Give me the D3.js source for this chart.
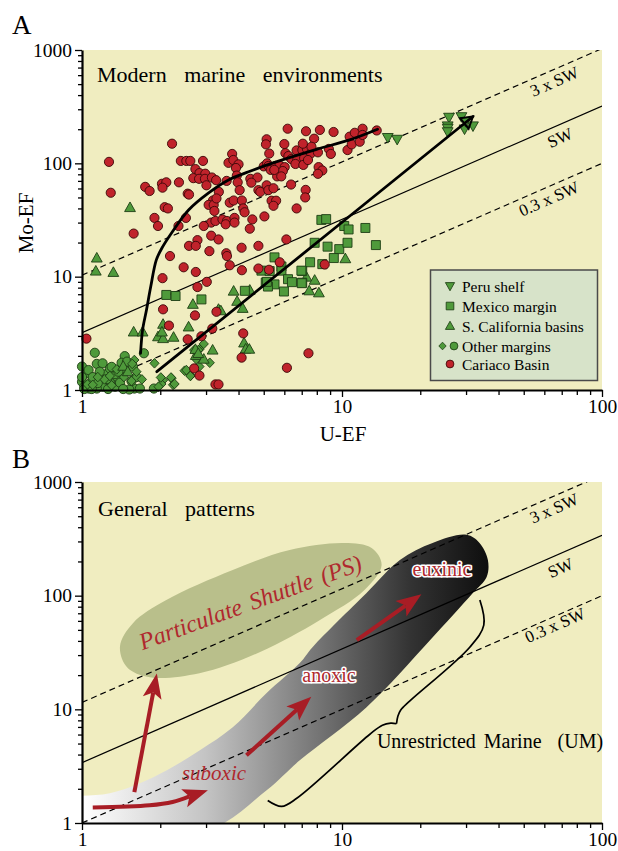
<!DOCTYPE html>
<html><head><meta charset="utf-8">
<script src="https://cdn.jsdelivr.net/npm/d3@7"></script>
<style>body{margin:0;background:#fff}svg{display:block}</style>
</head><body><svg id="c" width="618" height="851"></svg>
<script>
// ---------------- DATA ----------------
const xTickLabels = [1, 10, 100];
const yTickLabels = [1, 10, 100, 1000];
const swRatioA = {"3 x SW": 10.3, "SW": 3.2, "0.3 x SW": 1.0};
const swRatioB = {"3 x SW": 11.5, "SW": 3.4, "0.3 x SW": 1.0};
const legendLabels = ["Peru shelf", "Mexico margin", "S. California basins", "Other margins", "Cariaco Basin"];

const peruShelf = [[15,169],[16.3,163],[25.8,255],[28.8,258],[25.5,214],[25.5,204],[25.5,190],[29.6,201],[31.9,214],[29.9,234]];
const mexicoMargin = [[8.33,31.7],[8.69,32.2],[10.2,28],[10.6,26.1],[12.3,26.9],[7.85,19.9],[8.8,18.4],[9.76,17.5],[10.5,19.9],[13.5,19.0],[9.3,14.6],[7.54,13.4],[7.03,11.2],[7.03,8.85],[5.5,14.8],[8.4,12.9],[4.9,11.3],[5.27,11.2],[5.85,12.3],[5.85,11.3],[6.98,11.3],[6.2,9.5],[6.42,8.95],[7.0,8.76],[5.09,8.87],[5.5,8.55],[5.19,8.18],[5.98,7.4],[2.11,6.9],[2.29,6.75],[2.88,6.3],[4.23,7.5],[5.14,9.0]];
const sCalifornia = [[1.53,40.7],[1.14,14.6],[1.13,11.2],[1.32,10.9],[3.83,7.45],[4.42,7.6],[3.95,6.06],[4.15,5.25],[2.67,5.7],[2.05,3.8],[1.58,3.25],[1.71,3.25],[1.96,2.95],[2.05,2.84],[2.25,2.92],[2.03,3.25],[2.57,3.6],[3.35,5.15],[3.42,5.0],[4.2,2.6],[4.26,2.3],[4.4,2.29],[3.18,2.25],[2.74,2.02],[2.94,1.87],[10.3,14.4],[7.3,9.9],[7.85,9.3],[7.48,7.5],[8.15,7.2],[2.73,2.28],[2.8,2.1],[1.44,1.62],[1.5,1.45]];
const otherCircles = [[1.12,2.13],[1.0,1.61],[1.04,1.40],[1.14,1.70],[1.20,1.72],[1.24,1.38],[1.17,1.22],[1.09,1.18],[1.20,1.07],[1.28,1.18],[1.34,1.07],[1.46,1.99],[1.42,1.74],[1.36,1.31],[1.46,1.45],[1.57,1.61],[1.40,1.16],[1.0,1.18],[1.02,1.07],[1.06,1.03],[1.14,1.03],[1.34,1.38],[1.59,1.03],[1.67,1.03],[1.52,1.01],[1.73,2.11],[1.89,1.03],[1.49,1.78],[1.28,1.55],[1.17,1.45],[1.06,1.5],[1.1,1.3],[1.25,1.25],[1.3,1.6],[1.15,1.15],[1.38,1.45],[1.0,1.3],[1.02,1.02],[1.09,1.02],[1.26,1.02],[1.44,1.02],[1.55,1.2],[1.62,1.3]];
const otherDiamonds = [[1.59,1.84],[1.62,1.45],[1.70,1.24],[1.55,1.20],[1.90,1.72],[2.05,1.22],[2.21,1.27],[2.24,1.11],[2.02,1.13],[2.48,1.48],[2.62,1.34],[2.83,1.61],[2.94,2.55],[3.10,1.74],[2.83,2.29],[2.75,1.87],[1.56,1.70],[1.05,1.12],[1.10,1.11],[1.22,1.24],[1.28,1.33],[1.36,1.52],[2.01,1.29],[2.2,1.29],[2.27,1.13],[1.97,1.07],[2.52,1.50],[2.61,1.33],[2.70,2.25],[2.8,2.25],[1.15,1.3],[1.3,1.1],[1.45,1.3]];
const cariaco = [[2.22,149],[1.27,103],[1.29,55],[2.40,105],[2.52,105],[2.61,105],[2.92,105],[2.73,89],[2.83,82],[2.98,81],[2.68,74],[2.82,73],[2.97,73],[3.16,75],[3.28,71],[3.01,64],[2.36,68],[2.03,66],[2.11,68],[2.04,61],[1.75,62],[1.82,57],[2.55,54],[2.58,53],[2.08,41],[2.14,40],[1.90,33],[1.96,28],[1.58,24],[2.35,28],[2.51,33],
[3.78,121],[3.66,101],[3.82,107],[4.00,98],[3.91,91],[3.60,70],[3.94,78],[3.97,68],[4.04,58],[4.44,73],[4.73,75],[5.0,94],[5.15,100],[5.13,163],[5.10,147],[5.25,122],
[3.36,56],[3.19,47],[3.07,43],[3.21,43],[3.23,38],[3.29,49],[3.70,45],[3.83,47],[4.12,47],[4.17,40],[4.22,37],[4.77,58],[4.85,56],[5.13,64],[5.21,58],
[3.14,30],[3.26,31],[3.47,32],[3.61,31],[3.86,33],[3.57,29],[3.86,30],[2.94,28],[4.52,32],[5.03,34],[4.42,26.5],[3.14,23],[3.35,21.3],[2.78,21],[2.58,18.7],[2.74,18.7],[4.11,18],[4.77,18.7],
[6.18,202],[7.27,192],[8.22,197],[9.28,189],[7.81,165],[6.0,148],[6.06,123],[6.22,116],[6.69,130],[7.04,131],[7.33,134],[7.58,122],[8.08,125],[8.9,134],[9.06,121],[10.5,131],[10.7,172],[11.2,186],[12.0,202],[13.6,195],[10.9,147],[11.7,155],[12.0,178],[6.39,109],[6.73,108],[7.15,111],[6.62,98.7],[7.1,96.8],[7.4,107],[5.21,94.8],[5.32,87.5],[5.55,94.8],[5.75,96],[6.02,92.6],[5.92,85.5],[5.63,76.7],[5.84,76.7],[5.49,87.5],[8.13,92.6],[8.4,86.5],[8.08,80.8],[4.48,67.5],[6.37,65],[5.45,60.3],[7.25,58.3],[7.22,50],[5.36,46.8],[5.58,46.8],[5.45,42.2],[6.69,40],[6.11,21.3],[7.63,140],[7.07,149],
[2.18,15.2],[3.09,16.8],[3.59,16.1],[3.61,15.2],[3.70,12.6],[2.46,12.1],[2.74,11.0],[4.12,11.4],[4.77,11.8],[5.24,11.5],[2.04,9.7],[3.02,9.0],[2.78,8.1],[2.05,5.15],[2.72,4.55],[3.29,4.9],[2.16,3.7],[3.17,3.48],[2.55,2.8],[2.88,2.98],[1.04,2.84],[4.17,3.16],[4.11,1.93],[2.70,1.55],[2.83,1.34],[3.26,1.12],[3.35,1.12],[5.76,13.4],[8.58,12.8],[7.43,2.11],[6.14,1.57]];

// trend curves (panel A)
const shuttleCurve = [[1.68,2.11],[1.71,3.39],[1.77,5.08],[1.84,8.26],[1.93,14.0],[2.03,17.9],[2.21,24.3],[2.57,38.8],[3.07,54.9],[3.66,71.4],[4.37,84.2],[5.36,100],[7.98,133],[10.7,161],[13.7,200]];
const umTrend = [[1.94,1.45],[10.06,30.5],[31.9,259]];

// panel B shapes
const psField = [[1.40,35.9],[1.49,23.5],[1.82,19.2],[2.83,20.8],[4.82,31.8],[8.2,60.8],[12.2,112],[14.2,186],[13.0,262],[10.2,290],[6.29,252],[3.8,168],[2.11,91.4],[1.57,57.3]];
const umField = [[0.8,0.8],[0.8,1.72],[1.0,1.74],[1.28,1.83],[1.67,2.24],[2.12,2.91],[2.84,4.37],[3.80,6.96],[5.13,13.9],[6.88,25.5],[7.70,35.2],[12.4,105],[16.7,206],[22.3,291],[30.1,343],[33.8,291],[36.4,206],[36.0,146],[31.8,105],[21.8,40.6],[12.4,10.4],[6.88,3.56],[5.13,1.94],[3.0,0.85]];
const braceLower = [[5.18,1.58],[5.86,1.40],[6.70,1.65],[12.8,6.04],[14.3,7.25],[15.4,7.55],[16.2,7.47]];
const braceUpper = [[16.2,7.47],[16.4,8.70],[16.8,9.82],[18.2,11.8],[31.0,35.2],[35.1,55.1],[33.9,91.4]];
const arrowsB = [
  [[1.10,1.37],[1.82,1.43],[2.23,1.53],[3.05,1.94]],
  [[1.59,1.87],[1.94,20.7]],
  [[4.29,3.94],[7.62,12.9]],
  [[11.4,40.6],[20.2,103]]
];

// ---------------- SETUP ----------------
const FONT = '"Liberation Serif","Times New Roman",serif';
const BG = "#f0edc0";
const GREEN = "#4f9a3b", GSTROKE = "#1d3d14";
const RED = "#c0232b", RSTROKE = "#3a0808";
const ARROW = "#a81d25";
const svg = d3.select("#c");
const defs = svg.append("defs");

const x = d3.scaleLog().domain([1,100]).range([82,602]);
const yA = d3.scaleLog().domain([1,1000]).range([390,50]);
const yB = d3.scaleLog().domain([1,1000]).range([823,482]);

function allTicks(maxV){const t=[];for(let d=1;d<maxV;d*=10)for(let k=1;k<10;k++)t.push(d*k);t.push(maxV);return t;}

function panel(y, id){
  const g = svg.append("g");
  defs.append("clipPath").attr("id",id).append("rect")
    .attr("x",x(1)).attr("y",y(1000)).attr("width",x(100)-x(1)).attr("height",y(1)-y(1000));
  g.append("rect").attr("x",x(1)).attr("y",y(1000)).attr("width",x(100)-x(1)).attr("height",y(1)-y(1000)).attr("fill",BG);
  return g;
}

function axes(g, y){
  const ax = d3.axisLeft(y).tickValues(allTicks(1000)).tickSizeOuter(0).tickPadding(4)
    .tickFormat(d => yTickLabels.includes(d) ? d3.format("d")(d) : "");
  const ga = g.append("g").attr("transform",`translate(${x(1)},0)`).call(ax);
  ga.selectAll(".tick line").attr("x2", d => yTickLabels.includes(d) ? -7 : -4).attr("stroke-width",1.3);
  ga.selectAll(".tick text").attr("x",-10);
  const bx = d3.axisBottom(x).tickValues(allTicks(100)).tickSizeOuter(0).tickPadding(3)
    .tickFormat(d => xTickLabels.includes(d) ? d3.format("d")(d) : "");
  const gb = g.append("g").attr("transform",`translate(0,${y(1)})`).call(bx);
  gb.selectAll(".tick line").attr("y2", d => xTickLabels.includes(d) ? 7 : 5).attr("stroke-width",1.3);
  gb.selectAll(".tick text").attr("y",9);
  [ga,gb].forEach(a=>{
    a.attr("font-family",FONT).attr("font-size",19.5);
    a.selectAll(".tick text").attr("fill","#000");
    a.select(".domain").attr("stroke-width",2.2);
  });
}

function refLines(g, y, ratios, clipId, labelPos){
  const lg = g.append("g").attr("clip-path",`url(#${clipId})`);
  const line = d3.line().x(d=>x(d[0])).y(d=>y(d[1]));
  Object.entries(ratios).forEach(([k,r])=>{
    lg.append("path").attr("d",line([[1,r],[100,100*r]])).attr("fill","none")
      .attr("stroke","#000").attr("stroke-width",1.2)
      .attr("stroke-dasharray", k==="SW" ? null : "6,4");
  });
  const ang = -Math.atan((y(1)-y(10))/(x(10)-x(1)))*180/Math.PI;
  labelPos.forEach(([k,u,off])=>{
    const r = ratios[k];
    const px = x(u), py = y(u*r);
    g.append("text").attr("transform",`translate(${px},${py}) rotate(${ang}) translate(0,${off})`)
      .attr("text-anchor","middle").attr("font-family",FONT).attr("font-size",17).text(k);
  });
}

function sym(type){
  if(type==="circle") return "M4.6,0A4.6,4.6 0 1,1 -4.6,0A4.6,4.6 0 1,1 4.6,0Z";
  if(type==="square") return "M-4.5,-4.5H4.5V4.5H-4.5Z";
  if(type==="tri") return "M0,-5.6L5.4,4L-5.4,4Z";
  if(type==="tridown") return "M0,5.6L5.4,-4L-5.4,-4Z";
  if(type==="diamond") return "M0,-4.8L4.6,0L0,4.8L-4.6,0Z";
}
function scatter(g, data, type, fill, stroke){
  g.append("g").selectAll("path").data(data).join("path")
    .attr("transform",d=>`translate(${x(d[0])},${yA(d[1])})`)
    .attr("d",sym(type)).attr("fill",fill).attr("stroke",stroke).attr("stroke-width",0.9);
}

// ---------------- PANEL A ----------------
const gA = panel(yA,"clipA");
refLines(gA, yA, swRatioA, "clipA", [["3 x SW",63,17],["SW",66,18],["0.3 x SW",60,17]]);

scatter(gA, otherCircles, "circle", GREEN, GSTROKE);
scatter(gA, otherDiamonds, "diamond", GREEN, GSTROKE);
scatter(gA, sCalifornia, "tri", GREEN, GSTROKE);
scatter(gA, mexicoMargin, "square", GREEN, GSTROKE);
scatter(gA, peruShelf, "tridown", GREEN, GSTROKE);
scatter(gA, cariaco, "circle", RED, RSTROKE);

gA.append("path").attr("d",d3.line().x(d=>x(d[0])).y(d=>yA(d[1])).curve(d3.curveCatmullRom.alpha(0.5))(shuttleCurve)).attr("fill","none")
  .attr("stroke","#000").attr("stroke-width",2.8).attr("stroke-linecap","round");
gA.append("path").attr("d",d3.line().x(d=>x(d[0])).y(d=>yA(d[1]))(umTrend)).attr("fill","none")
  .attr("stroke","#000").attr("stroke-width",2.8).attr("stroke-linecap","round");
{ // open arrowhead on UM trend
  const p1 = umTrend[umTrend.length-2], p2 = umTrend[umTrend.length-1];
  const tx=x(p2[0]), ty=yA(p2[1]); const a=Math.atan2(ty-yA(p1[1]), tx-x(p1[0]));
  const L=13, s=0.55;
  const b1=[tx-L*Math.cos(a-s), ty-L*Math.sin(a-s)], b2=[tx-L*Math.cos(a+s), ty-L*Math.sin(a+s)];
  gA.append("path").attr("d",`M${b1}L${tx},${ty}L${b2}Z`).attr("fill","none").attr("stroke","#000").attr("stroke-width",2);
}

axes(gA, yA);

gA.append("text").attr("x",97).attr("y",82).attr("font-family",FONT).attr("font-size",22)
  .attr("word-spacing",12).text("Modern marine environments");
svg.append("text").attr("x",12).attr("y",34).attr("font-family",FONT).attr("font-size",27).text("A");
svg.append("text").attr("transform",`translate(33,${(yA(1)+yA(1000))/2+3}) rotate(-90)`).attr("text-anchor","middle")
  .attr("font-family",FONT).attr("font-size",21).text("Mo-EF");
svg.append("text").attr("x",343).attr("y",441).attr("text-anchor","middle")
  .attr("font-family",FONT).attr("font-size",21).text("U-EF");

// legend
{
  const lg = gA.append("g");
  lg.append("rect").attr("x",430.5).attr("y",270).attr("width",167).attr("height",110.5)
    .attr("fill","#d7e3c9").attr("stroke","#4a4a4a").attr("stroke-width",1.5);
  const rows = [286,306,326,346,364];
  const types = [["tridown"],["square"],["tri"],["diamond","circle"],["circle"]];
  legendLabels.forEach((lab,i)=>{
    const t = types[i];
    if(t.length===1){
      lg.append("path").attr("transform",`translate(450,${rows[i]}) scale(0.85)`).attr("d",sym(t[0]))
        .attr("fill", i===4?RED:GREEN).attr("stroke", i===4?RSTROKE:GSTROKE).attr("stroke-width",1);
    } else {
      lg.append("path").attr("transform",`translate(442.5,${rows[i]}) scale(0.8)`).attr("d",sym("diamond"))
        .attr("fill",GREEN).attr("stroke",GSTROKE).attr("stroke-width",1);
      lg.append("path").attr("transform",`translate(454,${rows[i]}) scale(0.85)`).attr("d",sym("circle"))
        .attr("fill",GREEN).attr("stroke",GSTROKE).attr("stroke-width",1);
    }
    lg.append("text").attr("x",462).attr("y",rows[i]+5.5).attr("font-family",FONT).attr("font-size",15.5).text(lab);
  });
}

// ---------------- PANEL B ----------------
const gB = panel(yB,"clipB");
const grad = defs.append("linearGradient").attr("id","umGrad").attr("gradientUnits","userSpaceOnUse")
  .attr("x1",x(1)).attr("x2",x(38)).attr("y1",0).attr("y2",0);
[[0,"#ffffff"],[0.3,"#c4c4c4"],[0.55,"#7c7c7c"],[0.8,"#333333"],[1,"#0c0c0c"]].forEach(([o,c])=>
  grad.append("stop").attr("offset",o).attr("stop-color",c));

const shapes = gB.append("g").attr("clip-path","url(#clipB)");
shapes.append("path").attr("d",d3.line().x(d=>x(d[0])).y(d=>yB(d[1])).curve(d3.curveCatmullRomClosed)(psField)).attr("fill","#b9bf8b");
shapes.append("path").attr("d",d3.line().x(d=>x(d[0])).y(d=>yB(d[1])).curve(d3.curveCatmullRomClosed.alpha(0.5))(umField)).attr("fill","url(#umGrad)");

refLines(gB, yB, swRatioB, "clipB", [["3 x SW",62.8,17],["SW",66,19],["0.3 x SW",64,14]]);

// brace
const braceLine = d3.line().x(d=>x(d[0])).y(d=>yB(d[1])).curve(d3.curveCatmullRom);
[braceLower, braceUpper].forEach(b=>gB.append("path").attr("d",braceLine(b)).attr("fill","none")
  .attr("stroke","#000").attr("stroke-width",1.7));

// red arrows
arrowsB.forEach(pts=>{
  const P = pts.map(d=>[x(d[0]),yB(d[1])]);
  const tip = P[P.length-1], prev = P[P.length-2];
  const a = Math.atan2(tip[1]-prev[1], tip[0]-prev[0]);
  const L=25, W=9.5;
  const base=[tip[0]-L*Math.cos(a), tip[1]-L*Math.sin(a)];
  const notch=[tip[0]-0.78*L*Math.cos(a), tip[1]-0.78*L*Math.sin(a)];
  const shaft = P.slice(0,-1).concat([notch]);
  gB.append("path").attr("d",d3.line().curve(P.length>2?d3.curveCatmullRom:d3.curveLinear)(shaft))
    .attr("fill","none").attr("stroke",ARROW).attr("stroke-width",4);
  const l=[base[0]+W*Math.sin(a), base[1]-W*Math.cos(a)], r=[base[0]-W*Math.sin(a), base[1]+W*Math.cos(a)];
  gB.append("path").attr("d",`M${tip}L${l}L${notch}L${r}Z`).attr("fill",ARROW);
});

axes(gB, yB);

gB.append("text").attr("x",98).attr("y",516).attr("font-family",FONT).attr("font-size",22)
  .attr("word-spacing",12).text("General patterns");
svg.append("text").attr("x",12).attr("y",468).attr("font-family",FONT).attr("font-size",27).text("B");
gB.append("text").attr("transform","translate(253,610) rotate(-20)").attr("text-anchor","middle")
  .attr("font-family",FONT).attr("font-style","italic").attr("font-size",24).attr("fill","#b0282e")
  .attr("word-spacing",3).text("Particulate Shuttle (PS)");
gB.append("text").attr("x",214).attr("y",780).attr("text-anchor","middle")
  .attr("font-family",FONT).attr("font-style","italic").attr("font-size",21).attr("fill","#b0282e").text("suboxic");
[["anoxic",329,682],["euxinic",442,576]].forEach(([t,px,py])=>{
  gB.append("text").attr("x",px).attr("y",py).attr("text-anchor","middle").attr("font-family",FONT)
    .attr("font-size",20).attr("fill","#b0282e").attr("stroke","#ffffff").attr("stroke-width",3.2)
    .attr("paint-order","stroke").attr("stroke-linejoin","round").text(t);
});
gB.append("text").attr("x",490).attr("y",748).attr("text-anchor","middle").attr("font-family",FONT)
  .attr("font-size",20).attr("word-spacing",3).text("Unrestricted Marine  (UM)").attr("xml:space","preserve");
</script></body></html>
